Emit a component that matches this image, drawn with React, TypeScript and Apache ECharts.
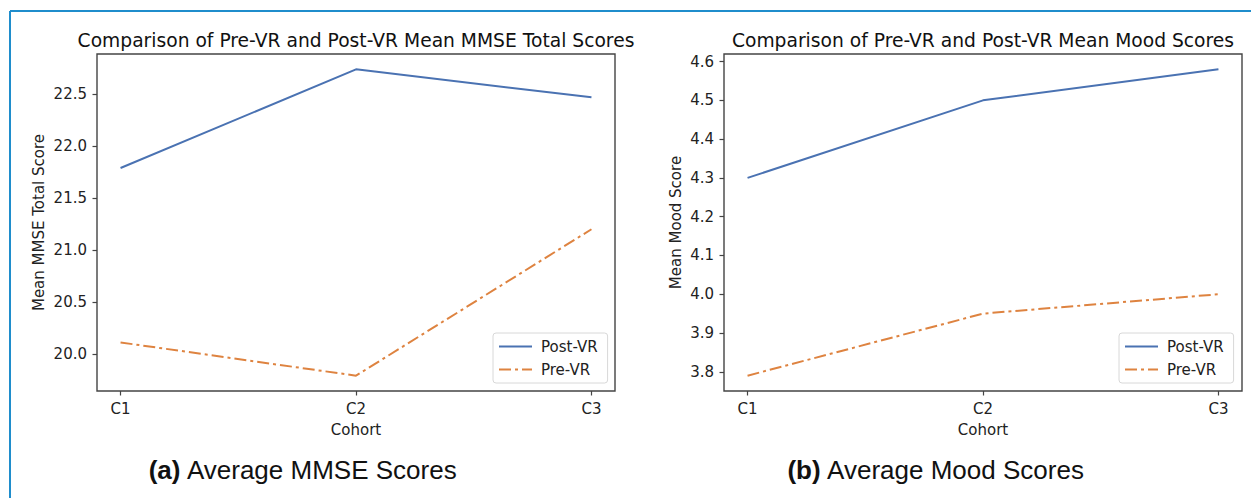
import React, { useEffect, useRef } from "react";
import * as echarts from "echarts";

const categories = ["C1", "C2", "C3"];
const mmsePost = [21.79, 22.74, 22.47];
const mmsePre = [20.11, 19.79, 21.2];
const moodPost = [4.3, 4.5, 4.58];
const moodPre = [3.79, 3.95, 4.0];
const mmseTicks = [20.0, 20.5, 21.0, 21.5, 22.0, 22.5];
const moodTicks = [3.8, 3.9, 4.0, 4.1, 4.2, 4.3, 4.4, 4.5, 4.6];

const BLUE = "#4a72b2";
const ORANGE = "#de8340";
const FONT = "DejaVu Sans";
const DASHDOT = [12, 4, 3, 4];

function pad(a: number[], b: number[]) {
  const all = a.concat(b);
  const mn = Math.min(...all);
  const mx = Math.max(...all);
  const m = (mx - mn) * 0.05;
  return [mn - m, mx + m];
}

export default function App() {
  const ref = useRef<HTMLDivElement>(null);
  useEffect(() => {
    document.body.style.margin = "0";
    const chart = echarts.init(ref.current!, null, { renderer: "svg" });
    const r1 = pad(mmsePost, mmsePre);
    const r2 = pad(moodPost, moodPre);
    const xAxisBase = (gi: number) => ({
      type: "value",
      gridIndex: gi,
      min: -0.1,
      max: 2.1,
      name: "Cohort",
      nameLocation: "middle",
      nameGap: 31,
      nameTextStyle: { fontFamily: FONT, fontSize: 15, color: "#222" },
      axisLine: { show: false, onZero: false },
      splitLine: { show: false },
      axisTick: { show: true, length: 4.5, lineStyle: { color: "#444", width: 1.2 }, customValues: [0, 1, 2] },
      axisLabel: {
        customValues: [0, 1, 2],
        formatter: (v: number) => categories[Math.round(v)],
        fontFamily: FONT,
        fontSize: 15,
        color: "#222",
        margin: 10,
      },
    });
    const yAxisBase = (gi: number, r: number[], ticks: number[], name: string, gap: number) => ({
      type: "value",
      gridIndex: gi,
      min: r[0],
      max: r[1],
      name,
      nameLocation: "middle",
      nameGap: gap,
      nameRotate: 90,
      nameTextStyle: { fontFamily: FONT, fontSize: 15, color: "#222" },
      axisLine: { show: false, onZero: false },
      splitLine: { show: false },
      axisTick: { show: true, length: 4.5, lineStyle: { color: "#444", width: 1.2 }, customValues: ticks },
      axisLabel: {
        customValues: ticks,
        formatter: (v: number) => v.toFixed(1),
        fontFamily: FONT,
        fontSize: 15,
        color: "#222",
        margin: 10,
      },
    });
    const series = (name: string, gi: number, data: number[], color: string, dash: any) => ({
      type: "line",
      name,
      xAxisIndex: gi,
      yAxisIndex: gi,
      data: data.map((v, i) => [i, v]),
      symbol: "none",
      lineStyle: { color, width: 2, type: dash },
      itemStyle: { color },
    });
    const legend = (left: number) => ({
      left,
      top: 333,
      orient: "vertical",
      data: ["Post-VR", "Pre-VR"],
      itemWidth: 33,
      itemHeight: 14,
      itemGap: 8,
      padding: [6, 10, 6, 5],
      itemStyle: { opacity: 0 },
      borderColor: "#d8d8d8",
      borderWidth: 1,
      borderRadius: 3,
      backgroundColor: "rgba(255,255,255,0.8)",
      textStyle: { fontFamily: FONT, fontSize: 15, color: "#222", padding: [0, 0, 0, 4] },
    });
    const caption = (x: number, letter: string, text: string) => ({
      type: "text",
      x,
      y: 470,
      style: {
        text: `{b|(${letter})} ${text}`,
        textAlign: "center",
        textVerticalAlign: "middle",
        fontFamily: "Liberation Sans",
        fontSize: 26,
        fill: "#111",
        rich: { b: { fontWeight: "bold", fontFamily: "Liberation Sans", fontSize: 26, fill: "#111" } },
      },
    });
    const title = (x: number, text: string) => ({
      type: "text",
      x,
      y: 40,
      style: {
        text,
        textAlign: "center",
        textVerticalAlign: "middle",
        fontFamily: FONT,
        fontSize: 18.7,
        fill: "#111",
      },
    });
    chart.setOption({
      animation: false,
      backgroundColor: "#ffffff",
      grid: [
        { left: 97, top: 54, width: 518, height: 337, show: true, borderColor: "#444", borderWidth: 1.4, backgroundColor: "transparent" },
        { left: 724, top: 54, width: 518, height: 337, show: true, borderColor: "#444", borderWidth: 1.4, backgroundColor: "transparent" },
      ],
      xAxis: [xAxisBase(0), xAxisBase(1)],
      yAxis: [
        yAxisBase(0, r1, mmseTicks, "Mean MMSE Total Score", 51),
        yAxisBase(1, r2, moodTicks, "Mean Mood Score", 41),
      ],
      legend: [legend(493), legend(1119)],
      series: [
        series("Post-VR", 0, mmsePost, BLUE, "solid"),
        series("Pre-VR", 0, mmsePre, ORANGE, DASHDOT),
        series("Post-VR", 1, moodPost, BLUE, "solid"),
        series("Pre-VR", 1, moodPre, ORANGE, DASHDOT),
      ],
      graphic: [
        { type: "line", shape: { x1: 10, y1: 11, x2: 1251, y2: 11 }, style: { stroke: "#1f8dcc", lineWidth: 2 } },
        { type: "line", shape: { x1: 10, y1: 11, x2: 10, y2: 498 }, style: { stroke: "#1f8dcc", lineWidth: 2 } },
        title(356, "Comparison of Pre-VR and Post-VR Mean MMSE Total Scores"),
        title(983, "Comparison of Pre-VR and Post-VR Mean Mood Scores"),
        caption(303, "a", "Average MMSE Scores"),
        caption(936, "b", "Average Mood Scores"),
      ],
    });
    return () => chart.dispose();
  }, []);
  return <div ref={ref} style={{ width: 1251, height: 498 }} />;
}
